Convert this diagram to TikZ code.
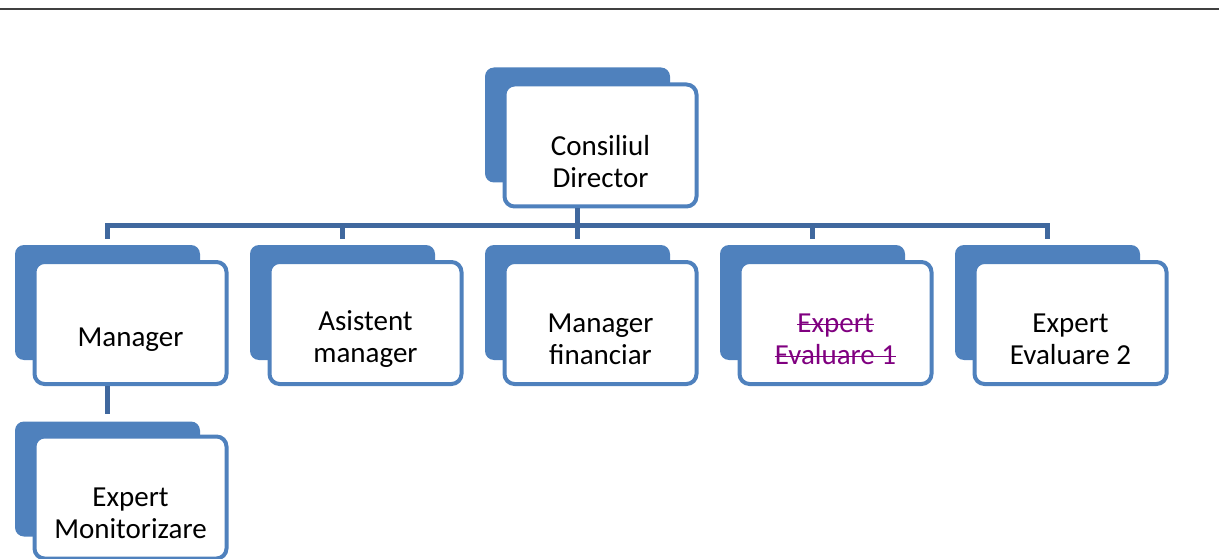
\documentclass[tikz,border=0pt]{standalone}
\usepackage{fontspec}
\setmainfont{Carlito}
\usepackage{tikz}
\definecolor{boxblue}{RGB}{79,129,189}
\definecolor{linkblue}{RGB}{64,104,158}
\definecolor{strikepurple}{RGB}{128,0,128}
\newcommand{\strk}[1]{\setbox0\hbox{#1}\rlap{\rule[0.24em]{\wd0}{1.6pt}}\box0}

\begin{document}
\begin{tikzpicture}[x=1pt,y=-1pt,
    cardback/.style={fill=boxblue,rounded corners=9pt,minimum width=185pt,minimum height=115pt,inner sep=0pt},
    card/.style={fill=white,draw=boxblue,line width=4pt,rounded corners=10pt,minimum width=192pt,minimum height=122pt,inner sep=0pt},
    cardtext/.style={align=center,font=\fontsize{29}{32}\selectfont,inner sep=0pt},
    link/.style={draw=linkblue,line width=5pt}]
    \useasboundingbox (0,0) rectangle (1219,559);
    \draw[black!75,line width=1.2pt] (0,9)--(1219,9);
    % top card
    \node[cardback] (cdb) at (577.5,125){};
    \node[card] (cd) at (600.5,145.5){};
    \path (cd.center) ++(0,16) node[cardtext] (cdt){Consiliul\\Director};
    % row of cards
    \foreach \n [count=\i from 0] in {m,am,mf,ea,eb}
    {
        \node[cardback] (\n b) at (107.5+235*\i,302.5){};
        \node[card] (\n) at (130.5+235*\i,323){};
    }
    \path (m.center) ++(0,17) node[cardtext] (mt){Manager};
    \path (am.center) ++(0,16) node[cardtext] (amt){Asistent\\manager};
    \path (mf.center) ++(0,16) node[cardtext] (mft){Manager\\financiar};
    \path (ea.center) ++(0,16) node[cardtext,text=strikepurple] (eat){\strk{Expert}\\\strk{Evaluare 1}};
    \path (eb.center) ++(0,16) node[cardtext] (ebt){Expert\\Evaluare 2};
    % card under Manager
    \node[cardback] (emb) at (107.5,479){};
    \node[card] (em) at (130.5,497.5){};
    \path (em.center) ++(0,16) node[cardtext] (emt){Expert\\Monitorizare};
    % connectors
    \coordinate (bus) at (577.5,225);
    \draw[link,shorten <=6pt,shorten >=6pt] (mb.north)--(mb.north |- bus)--(ebb.north |- bus)--(ebb.north);
    \draw[link,shorten >=6pt] (cd.south -| cdb)--(mfb.north);
    \foreach \n in {am,ea}
    {
        \draw[link,shorten <=6pt] (\n b.north)--(\n b.north |- bus);
    }
    \draw[link,shorten >=7pt] (m.south -| mb)--(emb.north);
\end{tikzpicture}
\end{document}
